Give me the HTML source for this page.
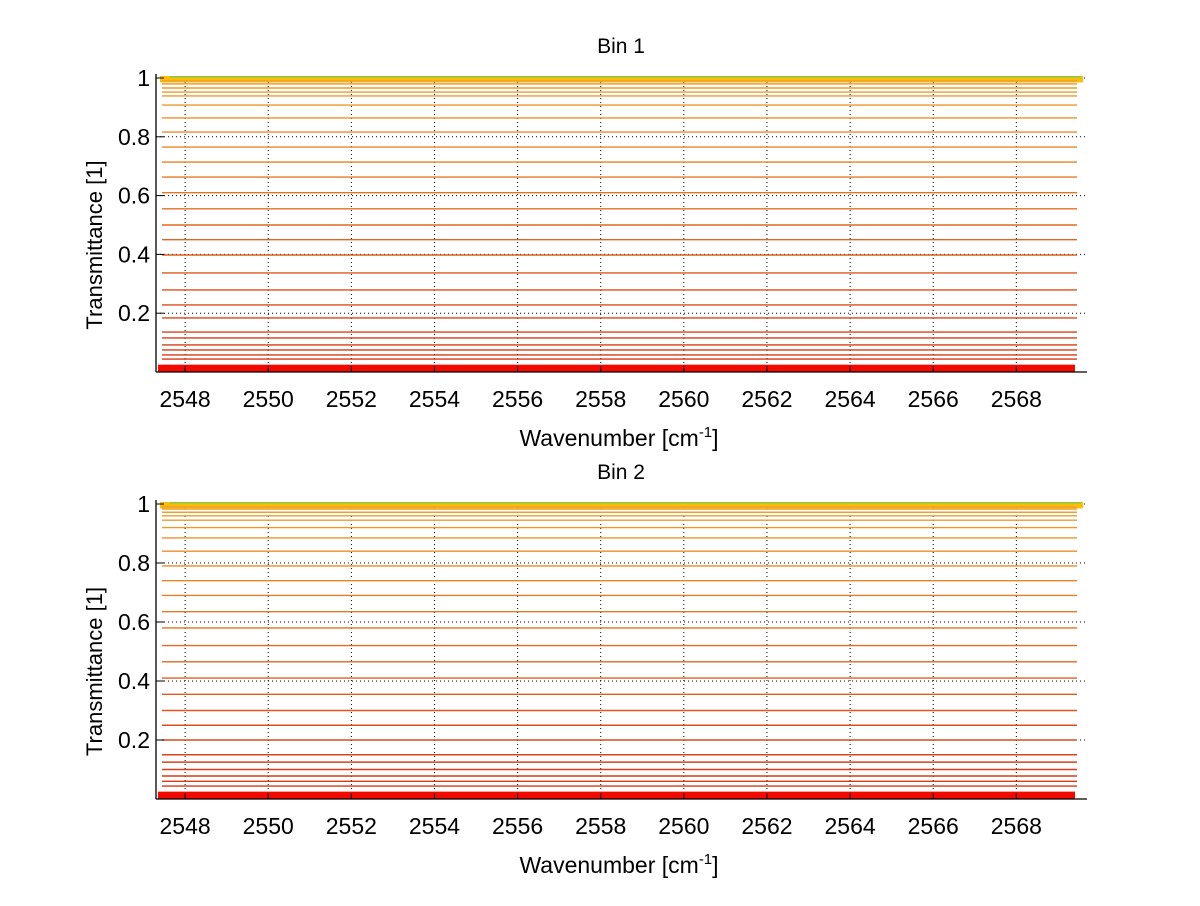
<!DOCTYPE html>
<html><head><meta charset="utf-8"><style>
body{margin:0;background:#fff}
svg text{font-family:"Liberation Sans",sans-serif;fill:#000}
</style></head><body>
<svg id="c" width="1200" height="901" xmlns="http://www.w3.org/2000/svg"></svg>
<script>
const xTicks=[2548,2550,2552,2554,2556,2558,2560,2562,2564,2566,2568];
const yTicks=[0.2,0.4,0.6,0.8,1];
const yTickLabels=["0.2","0.4","0.6","0.8","1"];
const levelsBin1=[0.044,0.058,0.075,0.092,0.116,0.136,0.184,0.228,0.279,0.337,0.398,0.45,0.5,0.555,0.61,0.663,0.714,0.765,0.816,0.864,0.908,0.939,0.952,0.966,0.98,0.99];
const levelsBin2=[0.044,0.06,0.078,0.1,0.125,0.15,0.2,0.25,0.3,0.355,0.41,0.465,0.52,0.58,0.635,0.69,0.74,0.79,0.84,0.885,0.92,0.945,0.96,0.972,0.983,0.99];
const xMin=2547.3,xMax=2569.7;
const panels=[{title:"Bin 1",top:78,bot:372,levels:levelsBin1,name:"bin-1"},{title:"Bin 2",top:504,bot:799,levels:levelsBin2,name:"bin-2"}];
const L=156,R=1087,NS="http://www.w3.org/2000/svg";
const svg=document.getElementById('c');
function mk(t,a,p){const e=document.createElementNS(NS,t);for(const k in a)e.setAttribute(k,a[k]);(p||svg).appendChild(e);return e;}
const xs=v=>L+(v-xMin)/(xMax-xMin)*(R-L);
function col(v){
 const g=Math.round(50+v*110);return `rgb(${Math.round(215+v*25)},${g},${Math.round(20+v*25)})`;
}
panels.forEach(p=>{
 const ys=v=>p.bot-v*(p.bot-p.top);
 const g=mk('g',{});
 
 
 xTicks.forEach(t=>{const l=mk('line',{x1:xs(t),x2:xs(t),y1:p.top,y2:p.bot,stroke:'#000','stroke-dasharray':'1,3','stroke-width':1},g);
  });
 yTicks.forEach(t=>{const l=mk('line',{x1:L,x2:R,y1:ys(t),y2:ys(t),stroke:'#000','stroke-dasharray':'1,3','stroke-width':1},g);
  });
 const band=mk('rect',{x:L+2,y:ys(0.025),width:R-L-14,height:ys(0)-ys(0.025),fill:'rgb(240,10,0)'},g);
 
 const hb=mk('rect',{x:L+4,y:ys(1.0)-2,width:R-L-8,height:ys(0.985)-ys(1.0)+2,fill:'rgb(250,190,10)'},g);
 
 const gb=mk('rect',{x:L+14,y:ys(1.0)-2,width:R-L-20,height:1.5,fill:'rgb(140,200,60)'},g);
 
 p.levels.forEach((v,i)=>{
  const y=ys(v);
  const ln=mk('line',{x1:L+6,x2:R-10,y1:y,y2:y,stroke:col(v),'stroke-width':1.4},g);
  
 });
 mk('line',{x1:L,x2:L,y1:p.top-4,y2:p.bot,stroke:'#000','stroke-width':1.3},g);
 mk('line',{x1:L,x2:R,y1:p.bot,y2:p.bot,stroke:'#000','stroke-width':1.3},g);
 xTicks.forEach(t=>{mk('line',{x1:xs(t),x2:xs(t),y1:p.bot,y2:p.bot-6,stroke:'#000'},g);
  const tx=mk('text',{x:xs(t),y:p.bot+35,'text-anchor':'middle','font-size':23},g);tx.textContent=t;
  });
 yTicks.forEach((t,i)=>{mk('line',{x1:L,x2:L+8,y1:ys(t),y2:ys(t),stroke:'#000'},g);
  const tx=mk('text',{x:L-6,y:ys(t)+8,'text-anchor':'end','font-size':23},g);tx.textContent=yTickLabels[i];
  });
 const ti=mk('text',{x:621,y:p.top-25,'text-anchor':'middle','font-size':21},g);ti.textContent=p.title;
 
 const xl=mk('text',{x:619,y:p.bot+74,'text-anchor':'middle','font-size':23},g);
 xl.innerHTML='Wavenumber [cm<tspan dy="-9" font-size="15">-1</tspan><tspan dy="9">]</tspan>';
 
 const yl=mk('text',{x:0,y:0,'text-anchor':'middle','font-size':22,transform:`translate(102,${(p.top+p.bot)/2+20}) rotate(-90)`},g);
 yl.textContent='Transmittance [1]';
 
});
</script>
</body></html>
